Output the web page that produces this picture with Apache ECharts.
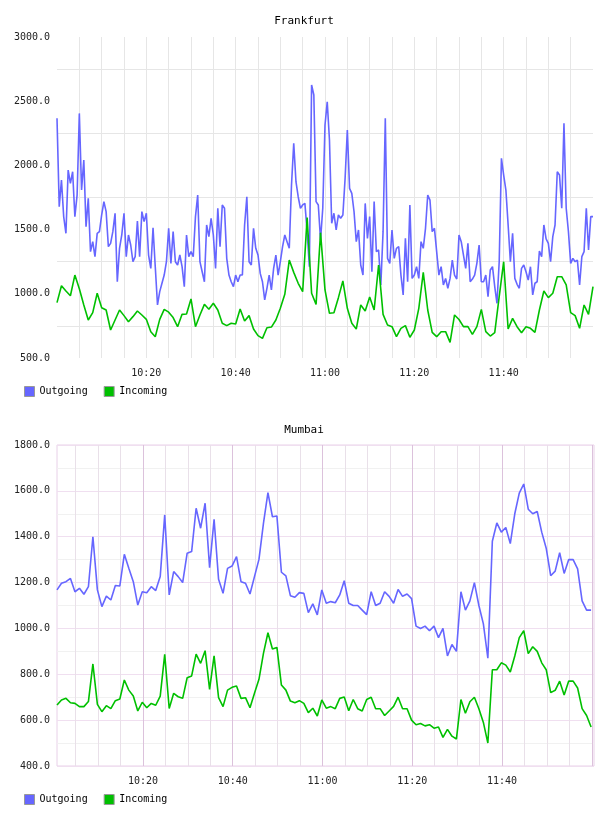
<!DOCTYPE html>
<html>
<head>
<meta charset="utf-8">
<title>Frankfurt / Mumbai</title>
<script src="https://cdn.jsdelivr.net/npm/echarts@6/dist/echarts.min.js"></script>
<style>
  html, body { margin: 0; padding: 0; background: #fff; }
  #chart { width: 608px; height: 816px; }
</style>
</head>
<body>
<div id="chart"></div>
<script>
// all times are minutes after 10:00
const seriesNames = ['Outgoing', 'Incoming'];
const seriesColors = ['#6666ff', '#00c000'];
const timeLabels = [20, 40, 60, 80, 100]; // 10:20 ... 11:40

// Frankfurt, outgoing every 30 s, incoming every minute
const frankfurtOutStart = 0;
const frankfurtOutStep = 0.5;
const frankfurtOutgoing = [
  2367, 1679, 1886, 1600, 1471, 1964, 1860, 1951, 1601, 1769, 2405, 1808, 2042, 1523, 1743, 1328, 1406, 1289, 1471, 1484,
  1614, 1718, 1640, 1367, 1393, 1484, 1627, 1094, 1354, 1458, 1627, 1289, 1458, 1380, 1250, 1289, 1567, 1289, 1640, 1562,
  1627, 1302, 1198, 1515, 1211, 913, 1017, 1082, 1146, 1250, 1510, 1237, 1484, 1250, 1224, 1302, 1211, 1056, 1458, 1289,
  1328, 1289, 1601, 1769, 1250, 1172, 1094, 1536, 1445, 1588, 1458, 1198, 1666, 1367, 1692, 1666, 1276, 1146, 1094, 1056,
  1146, 1094, 1146, 1146, 1536, 1756, 1250, 1224, 1510, 1354, 1302, 1159, 1094, 952, 1043, 1146, 1030, 1198, 1302, 1146,
  1250, 1367, 1458, 1406, 1354, 1847, 2172, 1873, 1756, 1666, 1692, 1704, 1484, 1211, 2626, 2548, 1718, 1692, 1419, 1666,
  2315, 2496, 2198, 1549, 1627, 1497, 1614, 1588, 1614, 1899, 2276, 1821, 1782, 1640, 1406, 1497, 1224, 1146, 1704, 1432,
  1601, 1172, 1718, 1328, 1341, 1069, 1484, 2367, 1276, 1237, 1497, 1276, 1354, 1367, 1146, 991, 1432, 1094, 1692, 1120,
  1146, 1211, 1120, 1406, 1354, 1510, 1769, 1730, 1484, 1510, 1328, 1146, 1211, 1069, 1120, 1043, 1120, 1263, 1146, 1115,
  1458, 1406, 1302, 1198, 1393, 1094, 1115, 1146, 1237, 1380, 1094, 1094, 1146, 978, 1185, 1211, 1056, 926, 1250, 2055,
  1925, 1808, 1536, 1250, 1471, 1120, 1074, 1043, 1198, 1224, 1172, 1107, 1211, 991, 1082, 1094, 1333, 1289, 1536, 1427,
  1393, 1250, 1445, 1536, 1951, 1925, 1666, 2328, 1666, 1484, 1237, 1276, 1250, 1263, 1069, 1289, 1328, 1666, 1341, 1601,
  1601
];
const frankfurtInStart = 0;
const frankfurtInStep = 1;
const frankfurtIncoming = [
  931, 1063, 1022, 985, 1146, 1040, 913, 796, 853, 1004, 892, 874, 718, 796, 874, 830, 783, 822, 866, 835,
  801, 705, 666, 801, 879, 857, 815, 744, 840, 843, 960, 744, 835, 918, 879, 926, 874, 770, 752, 770,
  765, 882, 788, 830, 726, 674, 653, 736, 741, 796, 887, 996, 1263, 1167, 1082, 1017, 1593, 1004, 918, 1476,
  1030, 848, 853, 970, 1100, 887, 770, 726, 913, 866, 975, 874, 1224, 840, 757, 744, 666, 731, 752, 661,
  718, 887, 1167, 874, 700, 666, 705, 705, 622, 835, 800, 744, 744, 684, 744, 879, 705, 671, 697, 978,
  1250, 726, 809, 744, 697, 744, 731, 700, 874, 1022, 970, 1004, 1133, 1133, 1069, 853, 830, 731, 913, 840,
  1056
];

// Mumbai, both every minute starting 10:00:51
const mumbaiStart = 0.85;
const mumbaiStep = 1;
const mumbaiOutgoing = [
  1168, 1197, 1204, 1218, 1160, 1175, 1149, 1182, 1400, 1168, 1095, 1141, 1124, 1187, 1185, 1323, 1262, 1204, 1102, 1160,
  1156, 1182, 1165, 1226, 1495, 1146, 1248, 1226, 1200, 1328, 1335, 1524, 1437, 1546, 1265, 1476, 1214, 1153, 1262, 1272,
  1313, 1204, 1197, 1150, 1226, 1301, 1458, 1592, 1487, 1490, 1245, 1229, 1143, 1136, 1156, 1153, 1069, 1107, 1059, 1168,
  1110, 1117, 1112, 1146, 1208, 1110, 1100, 1100, 1080, 1060, 1160, 1100, 1110, 1160, 1140, 1110, 1170, 1140, 1150, 1130,
  1010, 1000, 1010, 990, 1010, 960, 1000, 880, 930, 900, 1160, 1080, 1120, 1200, 1100, 1020, 870, 1380, 1460, 1420,
  1440, 1370, 1500, 1590, 1630, 1520, 1500, 1510, 1420, 1350, 1230, 1250, 1330, 1240, 1300, 1300, 1260, 1120, 1080, 1080
];
const mumbaiIncoming = [
  666, 688, 695, 676, 673, 659, 659, 681, 845, 669, 637, 663, 650, 685, 692, 775, 731, 705, 640, 678,
  654, 673, 665, 705, 887, 651, 717, 702, 695, 785, 793, 888, 848, 903, 734, 880, 698, 659, 731, 743,
  749, 695, 698, 654, 717, 778, 891, 981, 910, 917, 753, 731, 683, 676, 685, 673, 633, 652, 618, 688,
  652, 659, 650, 695, 701, 641, 690, 650, 640, 690, 700, 650, 650, 620, 640, 660, 700, 650, 650, 600,
  580, 585, 575, 580, 565, 570, 525, 560, 530, 518, 690, 630, 680, 700, 650, 590, 500, 820, 820, 850,
  840, 810, 880, 960, 990, 890, 920, 900, 850, 820, 720, 730, 770, 710, 770, 770, 740, 650, 620, 570
];

const FONT = '"DejaVu Sans Mono", monospace';

function toPairs(values, start, step) {
  return values.map(function (v, i) { return [start + i * step, v]; });
}

function fmtTime(m) {
  let h = 10 + Math.floor(m / 60);
  let mm = Math.round(m % 60);
  return h + ':' + (mm < 10 ? '0' + mm : mm);
}

function timeLabel(v) {
  return timeLabels.indexOf(Math.round(v)) >= 0 && Math.abs(v - Math.round(v)) < 1e-6 ? fmtTime(v) : '';
}

let fiveMin = [];
for (let m = 5; m <= 120; m += 5) fiveMin.push(m);

let chart = echarts.init(document.getElementById('chart'), null, {renderer: 'canvas'});

let lineSeries = function (name, idx, data, axis) {
  return {
    name: name,
    type: 'line',
    xAxisIndex: axis,
    yAxisIndex: axis,
    data: data,
    showSymbol: false,
    symbol: 'none',
    lineStyle: {color: seriesColors[idx], width: 1.6},
    itemStyle: {color: seriesColors[idx]},
    emphasis: {disabled: true}
  };
};

let legendBase = {
  left: 24,
  orient: 'horizontal',
  padding: 0,
  itemWidth: 10,
  itemHeight: 10,
  itemGap: 16,
  icon: 'rect',
  selectedMode: false,
  data: seriesNames,
  itemStyle: {borderColor: '#999', borderWidth: 1},
  textStyle: {fontFamily: FONT, fontSize: 10, color: '#000', padding: [0, 0, 0, 0]}
};

chart.setOption({
  animation: false,
  backgroundColor: '#fff',
  title: [
    {text: 'Frankfurt', left: 'center', top: 11, textStyle: {fontFamily: FONT, fontSize: 11, fontWeight: 'normal', color: '#000'}},
    {text: 'Mumbai', left: 'center', top: 420, textStyle: {fontFamily: FONT, fontSize: 11, fontWeight: 'normal', color: '#000'}}
  ],
  legend: [
    Object.assign({}, legendBase, {top: 386}),
    Object.assign({}, legendBase, {top: 794})
  ],
  grid: [
    {left: 57, right: 15, top: 37, height: 321},
    {left: 57, right: 14, top: 445, height: 321, show: true, borderColor: '#e8d0e8', borderWidth: 1, backgroundColor: 'transparent'}
  ],
  xAxis: [
    {
      type: 'value', gridIndex: 0, min: 0, max: 120, interval: 5,
      axisLine: {show: false}, axisTick: {show: false},
      axisLabel: {formatter: timeLabel, fontFamily: FONT, fontSize: 10, color: '#222', margin: 10},
      splitLine: {show: true, showMinLine: false, showMaxLine: false, lineStyle: {color: '#e6e6e6', width: 1}}
    },
    {
      type: 'value', gridIndex: 1, min: mumbaiStart, max: 120.5,
      axisLine: {show: false},
      axisTick: {show: false, customValues: fiveMin},
      axisLabel: {customValues: timeLabels, formatter: timeLabel, fontFamily: FONT, fontSize: 10, color: '#222', margin: 10},
      splitLine: {show: true, lineStyle: {color: ['#e9e0e9', '#e9e0e9', '#e9e0e9', '#dcc2dc'], width: 1}}
    }
  ],
  yAxis: [
    {
      type: 'value', gridIndex: 0, min: 500, max: 3000, interval: 250,
      axisLine: {show: false}, axisTick: {show: false},
      axisLabel: {
        formatter: function (v) { return v % 500 === 0 ? v.toFixed(1) : ''; },
        fontFamily: FONT, fontSize: 10, color: '#222', margin: 7
      },
      splitLine: {show: true, lineStyle: {color: ['transparent', '#e6e6e6'], width: 1}}
    },
    {
      type: 'value', gridIndex: 1, min: 400, max: 1800, interval: 100,
      axisLine: {show: false}, axisTick: {show: false},
      axisLabel: {
        formatter: function (v) { return v % 200 === 0 ? v.toFixed(1) : ''; },
        fontFamily: FONT, fontSize: 10, color: '#222', margin: 7
      },
      splitLine: {show: true, lineStyle: {color: ['#f0dff0', '#f1f1f1'], width: 1}}
    }
  ],
  series: [
    lineSeries('Outgoing', 0, toPairs(frankfurtOutgoing, frankfurtOutStart, frankfurtOutStep), 0),
    lineSeries('Incoming', 1, toPairs(frankfurtIncoming, frankfurtInStart, frankfurtInStep), 0),
    lineSeries('Outgoing', 0, toPairs(mumbaiOutgoing, mumbaiStart, mumbaiStep), 1),
    lineSeries('Incoming', 1, toPairs(mumbaiIncoming, mumbaiStart, mumbaiStep), 1)
  ]
});
</script>
</body>
</html>
